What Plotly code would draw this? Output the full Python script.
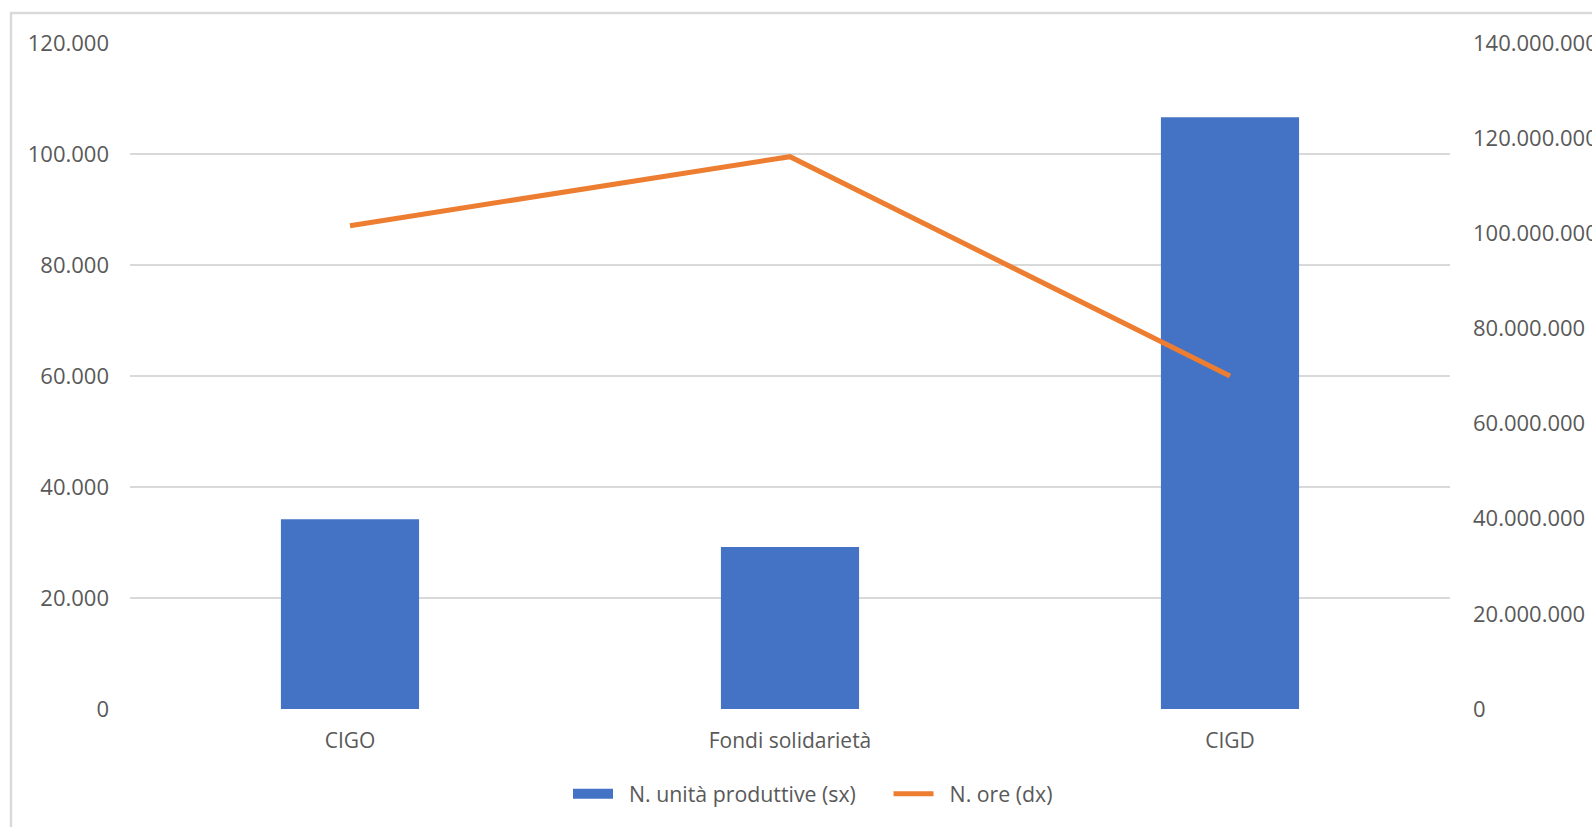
import plotly.graph_objects as go

categories = ["CIGO", "Fondi solidarietà", "CIGD"]
unita_produttive = [34200, 29200, 106600]
ore = [101600000, 116100000, 70000000]

left_ticks = [0, 20000, 40000, 60000, 80000, 100000, 120000]
left_labels = ["0", "20.000", "40.000", "60.000", "80.000", "100.000", "120.000"]
right_ticks = [0, 20e6, 40e6, 60e6, 80e6, 100e6, 120e6, 140e6]
right_labels = ["0", "20.000.000", "40.000.000", "60.000.000", "80.000.000",
                "100.000.000", "120.000.000", "140.000.000"]

FONT = "Open Sans"
GRAY = "#595959"
BLUE = "#4472C4"
ORANGE = "#ED7D31"
FS = 21
FSL = 21.3
FSY = 22
NB = "\u00a0"

fig = go.Figure()
fig.add_trace(go.Bar(
    x=categories, y=unita_produttive, name="N. unità produttive (sx)",
    marker=dict(color=BLUE, line=dict(width=0)), width=0.314, yaxis="y",
    showlegend=False,
))
# legend proxy giving a wide rectangular swatch like the original
fig.add_trace(go.Scatter(
    x=[None], y=[None], name=NB * 2 + "N. unità produttive (sx)" + NB * 5, mode="lines",
    line=dict(color=BLUE, width=13), yaxis="y", showlegend=True,
))
fig.add_trace(go.Scatter(
    x=categories, y=ore, name=NB * 2 + "N. ore (dx)", mode="lines",
    line=dict(color=ORANGE, width=5), yaxis="y2",
))

W, H = 1592, 827
L, R, T, B = 130, 142, 43, 118
pw = W - L - R
ph = H - T - B
y0px = H - B  # pixel row of the x axis

fig.update_layout(
    width=W, height=H, autosize=False,
    margin=dict(l=L, r=R, t=T, b=B, autoexpand=False),
    paper_bgcolor="white", plot_bgcolor="white",
    font=dict(family=FONT, size=FS, color=GRAY),
    showlegend=True,
    legend=dict(orientation="h", x=(568 - L) / pw, xanchor="left",
                y=(y0px - 794) / ph, yanchor="middle",
                font=dict(size=FSL, color=GRAY), itemwidth=40,
                traceorder="normal"),
    xaxis=dict(showgrid=False, showline=False, ticks="", zeroline=False,
               automargin=False,
               ticklabelstandoff=17, tickfont=dict(size=FS, color=GRAY)),
    yaxis=dict(range=[0, 120000], tickvals=left_ticks, ticktext=left_labels,
               showgrid=True, gridcolor="#D9D9D9", gridwidth=2,
               zeroline=False, showline=False, ticks="", automargin=False,
               ticklabelstandoff=20, tickfont=dict(size=FSY, color=GRAY)),
    yaxis2=dict(range=[0, 140e6], tickvals=right_ticks, ticktext=right_labels,
                overlaying="y", side="right", showgrid=False, zeroline=False,
                showline=False, ticks="", ticklabelstandoff=22, automargin=False,
                tickfont=dict(size=FSY, color=GRAY)),
    shapes=[dict(type="rect", xref="paper", yref="paper",
                 x0=(11 - L) / pw, x1=(1610 - L) / pw,
                 y0=(y0px - 840) / ph, y1=(y0px - 13) / ph,
                 line=dict(color="#D9D9D9", width=2.5), fillcolor="rgba(0,0,0,0)",
                 layer="below")],
)

fig.write_html("out.html", config={"displayModeBar": False})

# remove default body margin so the figure fits the window exactly
with open("out.html", "r", encoding="utf-8") as f:
    html = f.read()
html = html.replace("<head>", "<head><style>html,body{margin:0;padding:0;overflow:hidden;}</style>", 1)
with open("out.html", "w", encoding="utf-8") as f:
    f.write(html)
